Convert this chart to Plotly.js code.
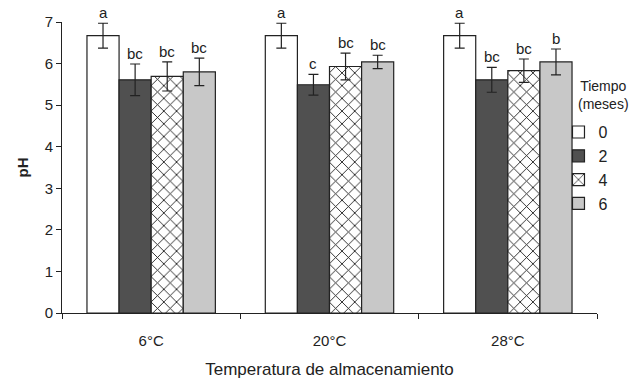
<!DOCTYPE html>
<html>
<head>
<meta charset="utf-8">
<script src="https://cdn.plot.ly/plotly-3.0.1.min.js"></script>
<style>html,body{margin:0;padding:0;background:#fff;}#chart{width:640px;height:380px;}</style>
</head>
<body>
<div id="chart"></div>
<script>
const categories = ["6°C", "20°C", "28°C"];
const seriesNames = ["0", "2", "4", "6"];
const values = [
  [6.67, 6.67, 6.67],
  [5.61, 5.49, 5.61],
  [5.69, 5.93, 5.83],
  [5.80, 6.04, 6.04]
];
const errors = [
  [0.30, 0.30, 0.30],
  [0.38, 0.25, 0.30],
  [0.35, 0.32, 0.28],
  [0.33, 0.16, 0.31]
];
const letters = [
  ["a", "a", "a"],
  ["bc", "c", "bc"],
  ["bc", "bc", "bc"],
  ["bc", "bc", "b"]
];
const legendTitle = "Tiempo<br>(meses)";

const fills = ["#ffffff", "#505050", "#ffffff", "#c8c8c8"];
const FONT = "Liberation Sans, Arial, sans-serif";
const bargap = 0.28;

const traces = seriesNames.map((name, j) => {
  const t = {
    type: "bar",
    name: name,
    x: categories.map((c, i) => i),
    y: values[j],
    marker: { color: fills[j], line: { color: "#222", width: 1.2 } },
    error_y: { type: "data", array: errors[j], visible: true, color: "#222", thickness: 1.2, width: 5 },
    hoverinfo: "none"
  };
  if (j === 2) {
    t.marker.pattern = { shape: "x", fgcolor: "#111", bgcolor: "#ffffff", size: 9, solidity: 0.18 };
  }
  return t;
});

const nS = seriesNames.length;
const bw = (1 - bargap) / nS;
const annotations = [];
seriesNames.forEach((name, j) => {
  categories.forEach((c, i) => {
    annotations.push({
      xref: "x", yref: "y",
      x: i + (j - (nS - 1) / 2) * bw,
      y: values[j][i] + errors[j][i],
      text: letters[j][i],
      showarrow: false,
      yanchor: "bottom",
      yshift: 0,
      font: { family: FONT, size: 15, color: "#222" }
    });
  });
});
annotations.push({
  xref: "paper", yref: "paper", x: 1.013, y: 0.685, xanchor: "center", yanchor: "bottom",
  text: legendTitle, showarrow: false, align: "center",
  font: { family: FONT, size: 14, color: "#222" }
});

const layout = {
  width: 640, height: 380,
  margin: { l: 62, r: 43, t: 22, b: 67 },
  paper_bgcolor: "#fff", plot_bgcolor: "#fff",
  barmode: "group", bargap: bargap, bargroupgap: 0,
  font: { family: FONT, size: 15, color: "#222" },
  showlegend: true,
  legend: {
    x: 0.928, xanchor: "left", y: 0.68, yanchor: "top",
    bgcolor: "rgba(0,0,0,0)",
    font: { family: FONT, size: 16, color: "#222" },
    itemwidth: 30,
    tracegroupgap: 0
  },
  xaxis: {
    type: "linear",
    range: [-0.5, 2.5],
    tickvals: [0, 1, 2],
    ticktext: categories,
    showline: true, linecolor: "#222", linewidth: 1,
    ticks: "", showgrid: false, zeroline: false,
    ticklabelstandoff: 14,
    tickfont: { family: FONT, size: 15, color: "#222" },
    title: { text: "Temperatura de almacenamiento", font: { family: FONT, size: 17, color: "#222" }, standoff: 15 }
  },
  xaxis2: {
    overlaying: "x", matches: "x", anchor: "y",
    tickvals: [-0.5, 0.5, 1.5, 2.5], ticktext: ["", "", "", ""],
    ticks: "outside", ticklen: 5, tickcolor: "#222", showgrid: false, zeroline: false, showline: false
  },
  yaxis: {
    range: [0, 7], dtick: 1,
    showline: true, linecolor: "#222", linewidth: 1,
    ticks: "outside", ticklen: 5, tickcolor: "#222",
    showgrid: false, zeroline: false,
    tickfont: { family: FONT, size: 15, color: "#222" },
    title: { text: "<b>pH</b>", font: { family: FONT, size: 15, color: "#222" }, standoff: 12 }
  },
  annotations: annotations
};

traces.push({ type: "scatter", x: [0], y: [0], xaxis: "x2", mode: "markers", marker: { opacity: 0 }, showlegend: false, hoverinfo: "none" });

Plotly.newPlot("chart", traces, layout, { staticPlot: true, displayModeBar: false });
</script>
</body>
</html>
